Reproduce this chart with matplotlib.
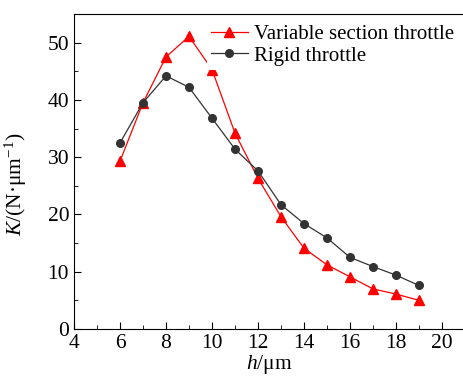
import matplotlib
matplotlib.use("Agg")
import matplotlib.pyplot as plt
from matplotlib.ticker import MultipleLocator

plt.rcParams['font.family'] = ['Liberation Serif', 'DejaVu Serif']
plt.rcParams['mathtext.fontset'] = 'custom'
plt.rcParams['mathtext.rm'] = 'Liberation Serif'
plt.rcParams['mathtext.it'] = 'Liberation Serif:italic'

# gap h (um)
h = [6, 7, 8, 9, 10, 11, 12, 13, 14, 15, 16, 17, 18, 19]
# stiffness K (N/um)
k_variable = [29.3, 39.5, 47.5, 51.1, 45.3, 34.2, 26.3, 19.6, 14.1, 11.2, 9.1, 7.0, 6.1, 5.0]
k_rigid = [32.5, 39.5, 44.2, 42.2, 36.8, 31.4, 27.6, 21.7, 18.4, 15.9, 12.5, 10.9, 9.4, 7.6]

fig = plt.figure(figsize=(4.63, 3.76), dpi=100)
ax = fig.add_axes([74 / 463, 1 - 329 / 376, (465 - 74) / 463, (329 - 14) / 376])

ax.plot(h, k_variable, color='#ff0000', lw=0.9, marker='^', ms=7,
        label='Variable section throttle')
ax.plot(h, k_rigid, color='#333333', lw=0.9, marker='o', ms=5.5,
        label='Rigid throttle')

ax.set_xlim(4, 21)
ax.set_ylim(0, 55)
ax.xaxis.set_major_locator(MultipleLocator(2))
ax.xaxis.set_minor_locator(MultipleLocator(1))
ax.yaxis.set_major_locator(MultipleLocator(10))
ax.yaxis.set_minor_locator(MultipleLocator(5))
ax.tick_params(which='both', direction='in', labelsize=15.5)
ax.tick_params(which='major', length=5)
ax.tick_params(which='minor', length=3)
ax.spines['right'].set_visible(False)

ax.set_xlabel(r'$h$/μm', fontsize=15.5, labelpad=0)
ax.set_ylabel(r'$K$/(N·μm$^{-1}$)', fontsize=15.5)
ax.yaxis.set_label_coords(-0.115, 0.46)

leg = ax.legend(loc='upper right', bbox_to_anchor=(1.0, 1.0), fontsize=15,
                frameon=True, framealpha=1, edgecolor='none',
                handlelength=1.8, handletextpad=0.3, labelspacing=0.1,
                borderpad=0.2, borderaxespad=0.3)
leg.get_frame().set_linewidth(0)

fig.savefig('out.png', dpi=100)
